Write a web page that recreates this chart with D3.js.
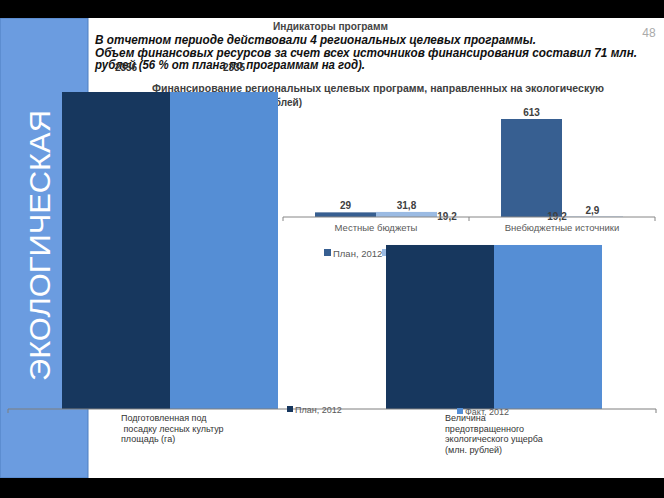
<!DOCTYPE html>
<html>
<head>
<meta charset="utf-8">
<script src="https://cdn.jsdelivr.net/npm/d3@7/dist/d3.min.js"></script>
<style>
  html, body { margin: 0; padding: 0; background: #fff; }
  svg { display: block; font-family: "Liberation Sans", Arial, sans-serif; }
</style>
</head>
<body>
<svg id="slide" width="664" height="498"></svg>
<script>
// financing chart (middle)
const finCategories = ["Местные бюджеты", "Внебюджетные источники"];
const finPlan = [29, 613];
const finFact = [31.8, 2.9];
const finStray = [19.2, 19.2];
const finTitle = ["Финансирование региональных целевых программ, направленных на экологическую",
                  "безопасность (млн. рублей)"];

// indicators chart (front)
const seriesNames = ["План, 2012", "Факт, 2012"];
const indCategories = [
  ["Подготовленная под", " посадку лесных культур", "площадь (га)"],
  ["Величина", "предотвращенного", "экологического ущерба", "(млн. рублей)"]
];
const indPlan = [2356, 1190];
const indFact = [2335, 1190];
const indLabels = ["2356", "2335"];

const headerLines = [
  "В отчетном периоде действовали 4 региональных целевых программы.",
  "Объем финансовых ресурсов за счет всех источников финансирования  составил 71 млн.",
  "рублей (56 % от плана по программам на год)."
];

const W = 664, H = 498;
const NAVY = "#17375e", BLUE = "#558ed5", SIDE = "#6b9ce0";
const FIN_PLAN = "#375f91", FIN_FACT = "#9bbbe3";
const GREY = "#595959";
const comma = v => String(v).replace(".", ",");

const svg = d3.select("#slide");
svg.append("rect").attr("width", W).attr("height", H).attr("fill", "#fff");

// ---- financing chart ----
const fin = svg.append("g");
const xFin = d3.scaleBand().domain(finCategories).range([283, 655]);
const xFinSer = d3.scaleBand().domain(seriesNames).range([0, xFin.bandwidth()]).paddingOuter(0.525);
const yFin = d3.scaleLinear().domain([0, d3.max(finPlan)]).range([217, 119]);

fin.append("text")
  .attr("x", 378).attr("y", 92)
  .attr("text-anchor", "middle")
  .attr("font-size", 10).attr("font-weight", "bold").attr("fill", "#404040")
  .attr("textLength", 452).attr("lengthAdjust", "spacingAndGlyphs")
  .text(finTitle[0]);
fin.append("text")
  .attr("x", 302).attr("y", 106)
  .attr("text-anchor", "end")
  .attr("font-size", 10).attr("font-weight", "bold").attr("fill", "#404040")
  .text(finTitle[1]);

const finRows = finCategories.map((c, i) => [
  { cat: c, s: seriesNames[0], v: finPlan[i], color: FIN_PLAN },
  { cat: c, s: seriesNames[1], v: finFact[i], color: FIN_FACT }
]).flat();

fin.selectAll("rect.bar")
  .data(finRows)
  .join("rect")
  .attr("class", "bar")
  .attr("x", d => xFin(d.cat) + xFinSer(d.s))
  .attr("width", xFinSer.bandwidth())
  .attr("y", d => yFin(d.v))
  .attr("height", d => yFin(0) - yFin(d.v))
  .attr("fill", d => d.color);

fin.selectAll("text.val")
  .data(finRows)
  .join("text")
  .attr("class", "val")
  .attr("x", d => xFin(d.cat) + xFinSer(d.s) + xFinSer.bandwidth() / 2)
  .attr("y", d => yFin(d.v) - 3)
  .attr("text-anchor", "middle")
  .attr("font-size", 10).attr("font-weight", "bold").attr("fill", "#404040")
  .text(d => comma(d.v));

// leftover labels of a hidden series
const strayDx = [164, 88];
fin.selectAll("text.stray")
  .data(finStray)
  .join("text")
  .attr("class", "stray")
  .attr("x", (d, i) => xFin(finCategories[i]) + strayDx[i])
  .attr("y", yFin(0) + 3)
  .attr("text-anchor", "middle")
  .attr("font-size", 10).attr("font-weight", "bold").attr("fill", "#404040")
  .text(d => comma(d));

fin.append("line")
  .attr("x1", 283).attr("x2", 655)
  .attr("y1", yFin(0)).attr("y2", yFin(0))
  .attr("stroke", "#868686");
fin.selectAll("line.tick")
  .data([283, xFin(finCategories[1]), 655])
  .join("line")
  .attr("class", "tick")
  .attr("x1", d => d).attr("x2", d => d)
  .attr("y1", yFin(0)).attr("y2", yFin(0) + 4)
  .attr("stroke", "#868686");
fin.selectAll("text.cat")
  .data(finCategories)
  .join("text")
  .attr("class", "cat")
  .attr("x", d => xFin(d) + xFin.bandwidth() / 2)
  .attr("y", 231)
  .attr("text-anchor", "middle")
  .attr("font-size", 9.5).attr("fill", GREY)
  .text(d => d);

const finLeg = fin.selectAll("g.leg")
  .data(seriesNames)
  .join("g")
  .attr("class", "leg")
  .attr("transform", (d, i) => `translate(${324 + i * 58}, 249)`);
finLeg.append("rect").attr("width", 7).attr("height", 7)
  .attr("fill", (d, i) => i ? FIN_FACT : FIN_PLAN);
finLeg.append("text").attr("x", 9).attr("y", 7.5)
  .attr("font-size", 9.5).attr("fill", GREY).text(d => d);

// ---- header text ----
svg.append("text")
  .attr("x", 273).attr("y", 30)
  .attr("font-size", 11).attr("font-weight", "bold").attr("fill", "#444")
  .attr("textLength", 115).attr("lengthAdjust", "spacingAndGlyphs")
  .text("Индикаторы программ");

const headW = [441, 542, 270];
svg.selectAll("text.head")
  .data(headerLines)
  .join("text")
  .attr("class", "head")
  .attr("x", 95)
  .attr("y", (d, i) => [44, 57, 69][i])
  .attr("font-size", 12).attr("font-weight", "bold").attr("font-style", "italic")
  .attr("fill", "#111")
  .attr("textLength", (d, i) => headW[i]).attr("lengthAdjust", "spacingAndGlyphs")
  .text(d => d);

svg.append("text")
  .attr("x", 649).attr("y", 37)
  .attr("text-anchor", "middle")
  .attr("font-size", 12).attr("fill", "#aaa")
  .text("48");

// ---- sidebar ----
svg.append("rect")
  .attr("x", 0).attr("y", 18).attr("width", 88).attr("height", 460)
  .attr("fill", SIDE).attr("stroke", "#4f7fc0").attr("stroke-width", 1);
svg.append("text")
  .attr("transform", "translate(50, 381) rotate(-90)")
  .attr("font-size", 30).attr("fill", "#fff")
  .attr("textLength", 271).attr("lengthAdjust", "spacingAndGlyphs")
  .text("ЭКОЛОГИЧЕСКАЯ");

// ---- indicators chart ----
const ind = svg.append("g");
const catIdx = indCategories.map((d, i) => i);
const xInd = d3.scaleBand().domain(catIdx).range([8, 656]);
const xIndSer = d3.scaleBand().domain(seriesNames).range([0, xInd.bandwidth()]).paddingOuter(0.5);
const yInd = d3.scaleLinear().domain([0, 2300]).range([409, 92]).clamp(true);

const indRows = catIdx.map(i => [
  { cat: i, s: seriesNames[0], v: indPlan[i], color: NAVY },
  { cat: i, s: seriesNames[1], v: indFact[i], color: BLUE }
]).flat();

ind.selectAll("rect.bar")
  .data(indRows)
  .join("rect")
  .attr("class", "bar")
  .attr("x", d => xInd(d.cat) + xIndSer(d.s))
  .attr("width", xIndSer.bandwidth())
  .attr("y", d => yInd(d.v))
  .attr("height", d => yInd(0) - yInd(d.v))
  .attr("fill", d => d.color);

ind.selectAll("text.val")
  .data(indRows.slice(0, 2))
  .join("text")
  .attr("class", "val")
  .attr("x", d => xInd(d.cat) + xIndSer(d.s) + xIndSer.bandwidth() / 2 + 10)
  .attr("y", 71)
  .attr("text-anchor", "middle")
  .attr("font-size", 10).attr("font-weight", "bold").attr("fill", "#333")
  .text((d, i) => indLabels[i]);

ind.append("line")
  .attr("x1", 8).attr("x2", 656)
  .attr("y1", yInd(0)).attr("y2", yInd(0))
  .attr("stroke", "#7f7f7f");
ind.selectAll("line.tick")
  .data([8, 656])
  .join("line")
  .attr("class", "tick")
  .attr("x1", d => d).attr("x2", d => d)
  .attr("y1", yInd(0)).attr("y2", yInd(0) + 4)
  .attr("stroke", "#7f7f7f");

const indCat = ind.selectAll("text.cat")
  .data(indCategories)
  .join("text")
  .attr("class", "cat")
  .attr("x", (d, i) => xInd(i) + 113)
  .attr("y", 421)
  .attr("font-size", 9).attr("fill", "#333");
indCat.selectAll("tspan")
  .data(d => d)
  .join("tspan")
  .attr("x", function() { return this.parentNode.getAttribute("x"); })
  .attr("dy", (d, i) => i ? 10.5 : 0)
  .attr("xml:space", "preserve")
  .text(d => d);

const indLeg = ind.selectAll("g.leg")
  .data(seriesNames)
  .join("g")
  .attr("class", "leg")
  .attr("transform", (d, i) => `translate(${i ? 457 : 287}, ${i ? 408 : 406})`);
indLeg.append("rect").attr("width", 6).attr("height", 6)
  .attr("fill", (d, i) => i ? BLUE : NAVY);
indLeg.append("text").attr("x", 8).attr("y", 6.5)
  .attr("font-size", 9).attr("fill", GREY).text(d => d);

// ---- black bands ----
svg.append("rect").attr("x", 0).attr("y", 0).attr("width", W).attr("height", 18).attr("fill", "#000");
svg.append("rect").attr("x", 0).attr("y", 478).attr("width", W).attr("height", 20).attr("fill", "#000");
</script>
</body>
</html>
